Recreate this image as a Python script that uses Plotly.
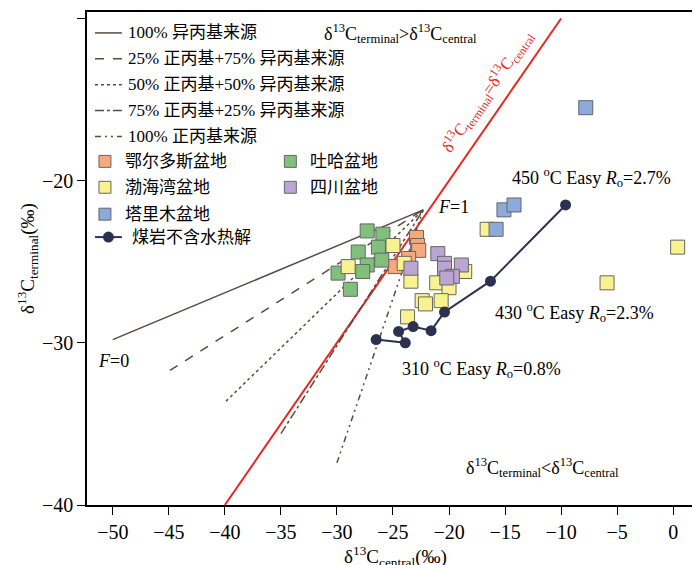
import plotly.graph_objects as go

# mixing lines: start point (F=0) for each source mix, all end at F=1
F1 = (-22.3, -21.8)
mix_names = ["100% 异丙基来源", "25% 正丙基+75% 异丙基来源", "50% 正丙基+50% 异丙基来源",
             "75% 正丙基+25% 异丙基来源", "100% 正丙基来源"]
mix_x0 = [-50.0, -44.9, -39.9, -35.0, -30.0]
mix_y0 = [-29.8, -31.7, -33.6, -35.6, -37.4]
mix_dash = ["solid", "dash", "dot", "dashdot", "6px,4px,2px,4px,2px,4px"]

basins = ["鄂尔多斯盆地", "吐哈盆地", "渤海湾盆地", "四川盆地", "塔里木盆地"]
basin_colors = ["#f5a97c", "#80c07c", "#f8f38f", "#bba5d2", "#8eaadb"]
ordos_x = [-22.9, -22.8, -22.7, -23.6, -24.8]
ordos_y = [-23.5, -24.0, -24.3, -24.8, -25.3]
tuha_x = [-27.3, -25.9, -28.1, -26.3, -26.0, -27.3, -29.9, -27.7, -28.8]
tuha_y = [-23.1, -23.3, -24.4, -24.1, -24.9, -25.2, -25.7, -25.6, -26.7]
bohai_x = [-25.0, -29.0, -24.0, -23.4, -21.1, -20.0, -22.4, -22.1, -20.7, -18.6, -23.7, -16.6, -5.9, 0.4]
bohai_y = [-24.0, -25.3, -25.1, -26.2, -26.3, -26.6, -27.4, -27.6, -27.4, -25.6, -28.4, -23.0, -26.3, -24.1]
sichuan_x = [-21.0, -20.4, -20.4, -23.4, -18.9, -19.7, -20.2]
sichuan_y = [-24.5, -25.1, -25.4, -25.4, -25.2, -25.9, -26.0]
tarim_x = [-7.8, -15.8, -15.1, -14.2]
tarim_y = [-15.5, -23.0, -21.8, -21.5]
basin_x = [ordos_x, tuha_x, bohai_x, sichuan_x, tarim_x]
basin_y = [ordos_y, tuha_y, bohai_y, sichuan_y, tarim_y]

coal_x = [-26.5, -23.9, -24.5, -23.2, -21.6, -20.4, -16.3, -9.6]
coal_y = [-29.8, -30.0, -29.3, -29.0, -29.25, -28.1, -26.2, -21.5]

LINE_C = "#5a4a42"
NAVY = "#2b3150"
FONT = "Liberation Serif, Noto Sans CJK SC"

fig = go.Figure()
fig.add_trace(go.Scatter(x=[-40, -10], y=[-40, -10], mode="lines",
                         line=dict(color="#e8281e", width=2), showlegend=False))
for x0, y0, d in zip(mix_x0, mix_y0, mix_dash):
    fig.add_trace(go.Scatter(x=[x0, F1[0]], y=[y0, F1[1]], mode="lines",
                             line=dict(color=LINE_C, width=1.5, dash=d), showlegend=False))
for bx, by, c in zip(basin_x, basin_y, basin_colors):
    fig.add_trace(go.Scatter(x=bx, y=by, mode="markers", showlegend=False,
                             marker=dict(symbol="square", size=14, color=c,
                                         line=dict(color="#666", width=1))))
fig.add_trace(go.Scatter(x=coal_x, y=coal_y, mode="lines+markers", showlegend=False,
                         line=dict(color=NAVY, width=2),
                         marker=dict(size=11, color=NAVY)))

# plot area in pixels: left 79, right 698, top 2, bottom 497
TOP, BOT = 2, 497

def px(x):
    return (x - 79) / 619

def py(y):
    return 1 - (y - TOP) / (BOT - TOP)

shapes = []
ann = []
rows = [23, 49, 75, 101, 127]
for r, name, d in zip(rows, mix_names, mix_dash):
    shapes.append(dict(type="line", xref="paper", yref="paper", x0=px(87), x1=px(114),
                       y0=py(r), y1=py(r), line=dict(color=LINE_C, width=1.5, dash=d)))
    ann.append(dict(xref="paper", yref="paper", x=px(118), y=py(r), text=name,
                    showarrow=False, xanchor="left", yanchor="middle", font=dict(size=17)))
sq_pos = [(97, 152), (283, 152), (97, 178), (283, 178), (97, 205)]
for (sx, sy), name, c in zip(sq_pos, basins, basin_colors):
    shapes.append(dict(type="rect", xref="paper", yref="paper", x0=px(sx - 6), x1=px(sx + 6),
                       y0=py(sy - 6), y1=py(sy + 6), fillcolor=c, line=dict(color="#666", width=1)))
    ann.append(dict(xref="paper", yref="paper", x=px(sx + 18), y=py(sy), text=name,
                    showarrow=False, xanchor="left", yanchor="middle", font=dict(size=17)))
shapes.append(dict(type="line", xref="paper", yref="paper", x0=px(87), x1=px(114),
                   y0=py(228), y1=py(228), line=dict(color=NAVY, width=2)))
shapes.append(dict(type="circle", xref="paper", yref="paper", x0=px(96), x1=px(105),
                   y0=py(223.5), y1=py(232.5), fillcolor=NAVY, line=dict(color=NAVY)))
ann.append(dict(xref="paper", yref="paper", x=px(122), y=py(228), text="煤岩不含水热解",
                showarrow=False, xanchor="left", yanchor="middle", font=dict(size=17)))

txt = [
    (-24.3, -10.9, "δ<sup>13</sup>C<sub>terminal</sub>>δ<sup>13</sup>C<sub>central</sub>"),
    (-11.7, -37.7, "δ<sup>13</sup>C<sub>terminal</sub><δ<sup>13</sup>C<sub>central</sub>"),
    (-19.6, -21.6, "<i>F</i>=1"),
    (-49.9, -31.1, "<i>F</i>=0"),
    (-7.3, -19.8, "450 <sup>o</sup>C Easy <i>R</i><sub>o</sub>=2.7%"),
    (-8.8, -28.1, "430 <sup>o</sup>C Easy <i>R</i><sub>o</sub>=2.3%"),
    (-17.1, -31.6, "310 <sup>o</sup>C Easy <i>R</i><sub>o</sub>=0.8%"),
]
for x, y, t in txt:
    ann.append(dict(x=x, y=y, text=t, showarrow=False, font=dict(size=18)))
ann.append(dict(x=-16.6, y=-14.5, text="δ<sup>13</sup>C<sub>terminal</sub>=δ<sup>13</sup>C<sub>central</sub>",
                showarrow=False, textangle=-55, font=dict(size=17, color="#e8281e")))

axis = dict(showline=True, linecolor="black", linewidth=1.5, mirror=True, ticks="outside",
            ticklen=8, tickcolor="black", showgrid=False, zeroline=False,
            tickfont=dict(size=20))
fig.update_layout(
    width=700, height=565, margin=dict(l=79, r=2, t=TOP, b=565 - BOT),
    plot_bgcolor="white", paper_bgcolor="white",
    font=dict(family=FONT, color="black", size=16),
    xaxis=dict(axis, range=[-52.3, 2.75], tickvals=[-50, -45, -40, -35, -30, -25, -20, -15, -10, -5, 0],
               title=dict(text="δ<sup>13</sup>C<sub>central</sub>(‰)", font=dict(size=19), standoff=2)),
    yaxis=dict(axis, range=[-40, -9.6], tickvals=[-40, -30, -20, -10],
               title=dict(text="δ<sup>13</sup>C<sub>terminal</sub>(‰)", font=dict(size=19), standoff=2)),
    shapes=shapes, annotations=ann,
)
fig.write_html("out.html")
